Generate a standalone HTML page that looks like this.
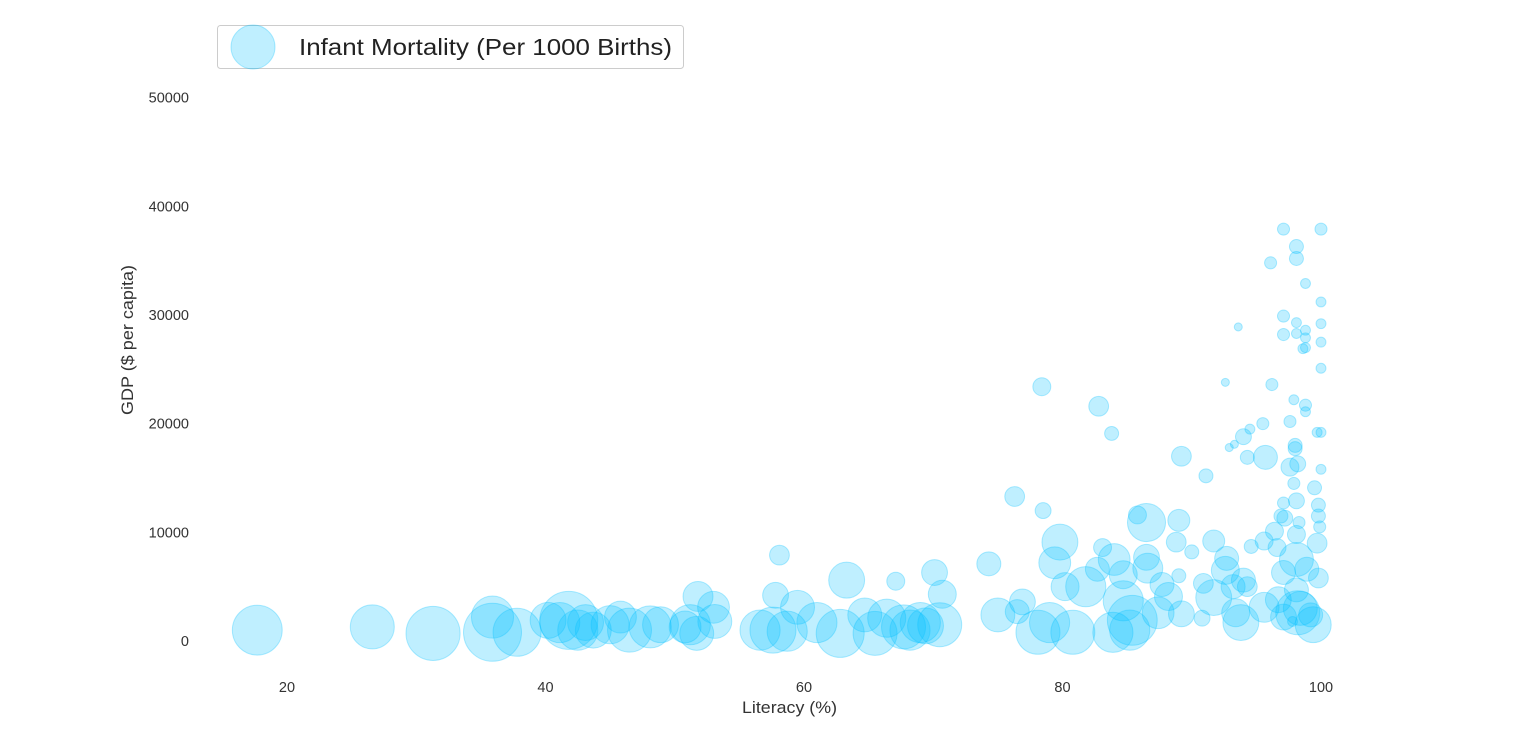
<!DOCTYPE html>
<html><head><meta charset="utf-8"><style>
html,body{margin:0;padding:0;background:#fff;}
svg{display:block;font-family:"Liberation Sans",sans-serif;}
</style></head><body>
<svg id="chart" width="1531" height="739" viewBox="0 0 1531 739" xmlns="http://www.w3.org/2000/svg">
<g id="yticks"></g>
<g id="xticks"></g>
<g id="bubbles"></g>
<text x="789.5" y="713" text-anchor="middle" font-size="17" fill="#333" textLength="95" lengthAdjust="spacingAndGlyphs">Literacy (%)</text>
<text x="133" y="340" text-anchor="middle" font-size="17" fill="#333" textLength="150" lengthAdjust="spacingAndGlyphs" transform="rotate(-90 133 340)">GDP ($ per capita)</text>
<g>
<rect x="217.5" y="25.5" width="466" height="43" rx="3" fill="#fff" stroke="#ccc"/>
<circle cx="253" cy="47" r="22" fill="rgba(0,191,255,0.25)" stroke="rgba(0,191,255,0.3)"/>
<text x="299" y="55" font-size="23" fill="#222" textLength="373" lengthAdjust="spacingAndGlyphs">Infant Mortality (Per 1000 Births)</text>
</g>
</svg>
<script>
const xTicks=[20,40,60,80,100];
const yTicks=[0,10000,20000,30000,40000,50000];
const lit=[17.7,26.6,31.3,35.9,35.9,37.8,40.2,41.8,41.1,42.5,43.1,43.7,45,45.8,46.5,48.1,48.9,50.8,51.2,51.7,51.8,53,53.1,
58.1,57.8,56.6,57.6,59.5,58.7,61,62.8,63.3,64.7,65.5,66.4,67.1,67.7,68.2,69,70.1,70.7,70.5,69.4,74.3,75,76.9,76.5,78.1,79,80.8,79.8,79.4,80.2,81.8,82.7,83.1,84,84.7,83.9,84.7,85.4,85.2,86.5,85.8,89,88.8,90,89,86.5,86.6,87.7,87.4,88.2,89.2,
78.5,76.3,78.4,82.8,83.8,89.2,91.1,
97.1,100,98.1,98.1,96.1,98.8,100,97.1,98.1,98.1,100,93.6,97.1,98.8,98.8,98.8,98.6,100,100,92.6,96.2,97.9,98.8,98.8,97.6,95.5,94.5,94,93.3,92.9,94.3,95.7,99.7,100,98,98,97.6,98.2,100,97.9,99.5,98.1,97.1,99.8,96.9,97.2,99.8,99.9,98.3,96.4,98.1,99.7,91.7,94.6,95.6,96.6,92.7,98.1,97.1,99.8,98.9,92.6,90.9,94,94.3,93.2,91.7,96.7,98.1,95.6,98.4,97.1,98.2,99.4,99.2,93.8,90.8,93.4,97.8,100];
const gdp=[1000,1300,700,2200,800,800,1900,1900,1700,1000,1700,1000,1500,2200,1000,1300,1500,1300,1500,700,4100,3100,1800,
7900,4200,1000,1000,3100,900,1700,700,5600,2400,700,2100,5500,1300,1000,1700,6300,4300,1500,1400,7100,2400,3600,2700,800,1700,800,9100,7200,5000,5000,6600,8600,7500,6100,800,3700,1900,1000,10900,11600,11100,9100,8200,6000,7700,6700,5200,2600,4100,2500,
12000,13300,23400,21600,19100,17000,15200,
37900,37900,36300,35200,34800,32900,31200,29900,29300,28300,29200,28900,28200,28600,27900,27000,26900,27500,25100,23800,23600,22200,21700,21100,20200,20000,19500,18800,18100,17800,16900,16900,19200,19200,18000,17700,16000,16300,15800,14500,14100,12900,12700,12500,11500,11300,11500,10500,10900,10100,9800,9000,9200,8700,9200,8600,7600,7500,6300,5800,6600,6500,5300,5600,5000,5000,4000,3800,4700,3100,3000,2200,2600,1500,2400,1700,2100,2600,1800,55300];
const mort=[108,84,127,77,146,100,56,146,70,70,56,56,63,44,84,77,56,44,70,50,39,44,50,
17,29,70,92,50,70,70,100,56,50,84,63,14,84,70,70,29,34,84,56,25,50,29,25,84,70,84,56,44,34,70,25,14,44,34,70,70,108,70,63,14,21,17,8.5,8.5,29,39,25,44,34,29,
11,17,14,17,8.5,17,8.5,
6.3,6.3,8.5,8.5,6.3,4.3,4.3,6.3,4.3,4.3,4.3,2.8,6.3,4.3,4.3,4.3,4.3,4.3,4.3,2.8,6.3,4.3,6.3,4.3,6.3,6.3,4.3,11,2.8,2.8,8.5,25,4.3,4.3,8.5,8.5,14,11,4.3,6.3,8.5,11,6.3,8.5,8.5,11,8.5,6.3,6.3,14,14,17,21,8.5,14,14,25,50,25,17,25,34,17,25,17,25,56,29,25,39,50,29,84,56,25,56,11,34,4.3];
const NS="http://www.w3.org/2000/svg";
const xs=v=>287+(v-20)*(1321-287)/80;
const ys=v=>641-v*0.010867;
const rs=m=>Math.sqrt(m)*2.4;
const yt=document.getElementById('yticks');
yTicks.forEach(t=>{const e=document.createElementNS(NS,'text');


e.setAttribute('x',189);e.setAttribute('y',ys(t)+5);e.setAttribute('text-anchor','end');e.setAttribute('font-size','14.5');e.setAttribute('fill','#333');e.textContent=t;yt.appendChild(e);});
const xt=document.getElementById('xticks');
xTicks.forEach(t=>{const e=document.createElementNS(NS,'text');


e.setAttribute('x',xs(t));e.setAttribute('y',692);e.setAttribute('text-anchor','middle');e.setAttribute('font-size','14.5');e.setAttribute('fill','#333');e.textContent=t;xt.appendChild(e);});
const g=document.getElementById('bubbles');
lit.forEach((l,i)=>{const c=document.createElementNS(NS,'circle');


c.setAttribute('cx',xs(l));c.setAttribute('cy',ys(gdp[i]));c.setAttribute('r',rs(mort[i]));
c.setAttribute('fill','rgba(0,191,255,0.25)');c.setAttribute('stroke','rgba(0,191,255,0.3)');c.setAttribute('stroke-width','1');g.appendChild(c);});
</script>
</body></html>
